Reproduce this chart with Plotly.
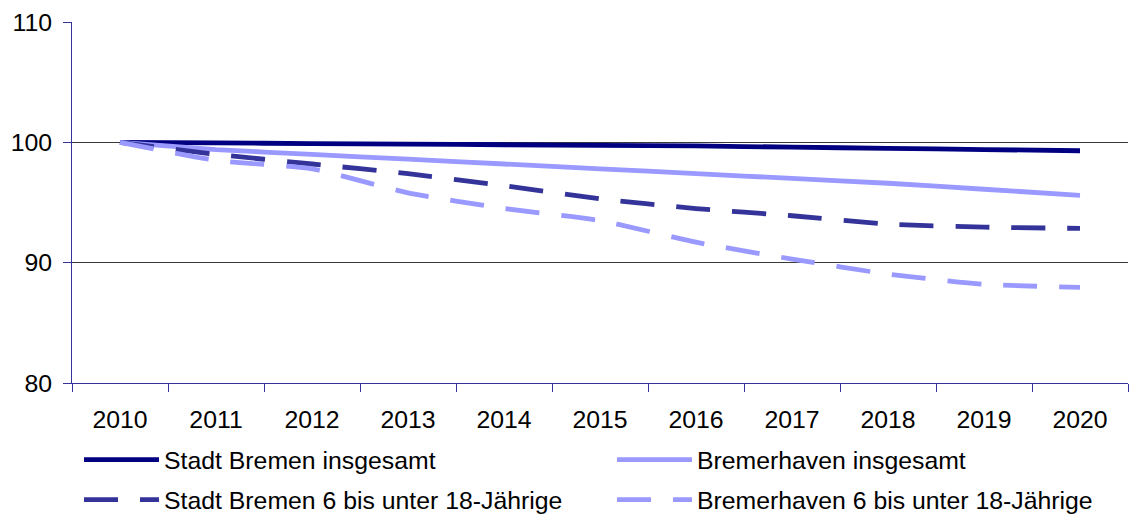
import plotly.graph_objects as go

years = ["2010", "2011", "2012", "2013", "2014", "2015", "2016", "2017", "2018", "2019", "2020"]
stadt_gesamt = [100.0, 99.95, 99.9, 99.85, 99.8, 99.75, 99.7, 99.6, 99.5, 99.4, 99.3]
bhv_gesamt = [100.0, 99.4, 99.0, 98.6, 98.2, 97.8, 97.4, 97.0, 96.6, 96.1, 95.6]
stadt_6_18 = [100.0, 99.0, 98.2, 97.4, 96.4, 95.3, 94.5, 93.9, 93.2, 92.95, 92.85]
bhv_6_18 = [100.0, 98.5, 97.8, 95.8, 94.5, 93.5, 91.7, 90.3, 89.05, 88.2, 87.95]

names = ["Stadt Bremen insgesamt", "Bremerhaven insgesamt",
         "Stadt Bremen 6 bis unter 18-Jährige", "Bremerhaven 6 bis unter 18-Jährige"]
series = [stadt_gesamt, bhv_gesamt, stadt_6_18, bhv_6_18]
colors = ["#000080", "#9999FF", "#333399", "#9999FF"]
dashes = ["solid", "solid", "34px,22px", "34px,22px"]
legends = ["legend", "legend2", "legend3", "legend4"]

FONT = "Liberation Sans, Arial, sans-serif"
FS = 24.8

fig = go.Figure()
for n, s, c, d, lg in zip(names, series, colors, dashes, legends):
    fig.add_trace(go.Scatter(
        x=years, y=s, name=n, mode="lines", legend=lg,
        line=dict(color=c, width=4.8, dash=d, shape="spline", smoothing=0.5),
    ))

def leg(x, y):
    return dict(
        orientation="h", x=x, xanchor="left", y=y, yanchor="middle",
        itemwidth=75,
        font=dict(family=FONT, size=FS, color="black"),
        bgcolor="rgba(0,0,0,0)", borderwidth=0,
    )

col1 = 7 / 1056
col2 = 540 / 1056
row1 = -77 / 361
row2 = -117 / 361

fig.update_layout(
    width=1136, height=517,
    margin=dict(l=72, r=8, t=22, b=134, autoexpand=False),
    paper_bgcolor="white", plot_bgcolor="white",
    font=dict(family=FONT, size=FS, color="black"),
    showlegend=True,
    legend=leg(col1, row1),
    legend2=leg(col2, row1),
    legend3=leg(col1, row2),
    legend4=leg(col2, row2),
    xaxis=dict(
        type="category", range=[-0.5, 10.5], showgrid=False, showline=True,
        linecolor="#333399", linewidth=1,
        ticks="outside", tickson="boundaries", ticklen=8, tickcolor="#333399",
        ticklabelstandoff=14, tickfont=dict(family=FONT, size=FS, color="black"),
    ),
    yaxis=dict(
        range=[80, 110], dtick=10, tick0=80, showgrid=True, gridcolor="#3a3a3a", gridwidth=1,
        showline=True, linecolor="#333399", linewidth=1, zeroline=False,
        ticks="outside", ticklen=8, tickcolor="#333399", ticklabelstandoff=6,
        tickfont=dict(family=FONT, size=FS, color="black"),
    ),
)

fig.write_html(
    "out.html",
    config={"displayModeBar": False},
    post_script="document.body.style.margin='0';document.body.style.overflow='hidden';",
)
